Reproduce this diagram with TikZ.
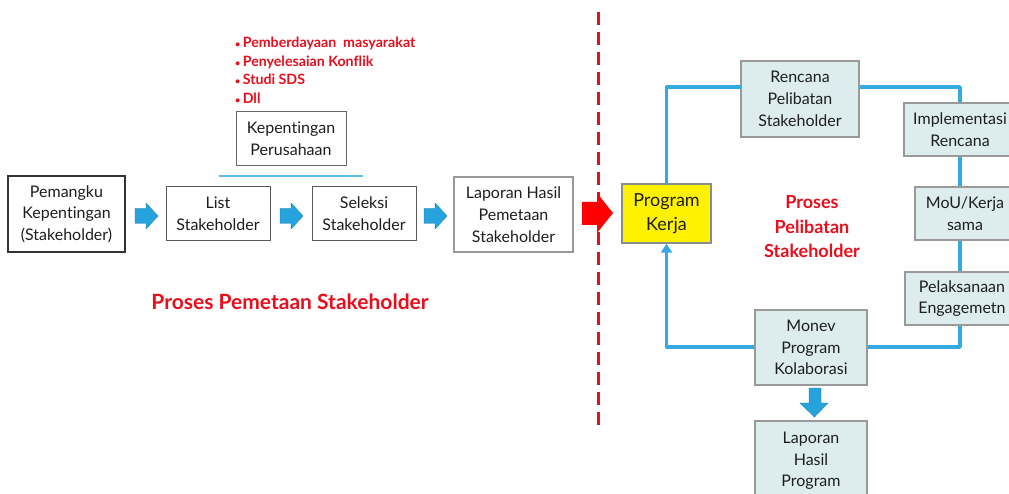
\documentclass[tikz,border=0pt]{standalone}
\usepackage{fontspec}
\setmainfont{Lato}[Ligatures={NoCommon}]
\usetikzlibrary{arrows.meta}
\definecolor{skyb}{RGB}{52,170,224}
\definecolor{arrb}{RGB}{38,162,220}
\definecolor{tealf}{RGB}{221,237,237}
\definecolor{redt}{RGB}{232,14,28}
\definecolor{txt}{RGB}{30,30,30}
\tikzset{
  box/.style={draw=black!65, line width=1pt, align=center, inner sep=0pt, text=txt,
    font=\fontsize{16}{21.7}\selectfont},
  tbox/.style={box, fill=tealf, draw=black!40, line width=1.4pt},
  loop/.style={draw=skyb, line width=3.6pt},
  redlbl/.style={text=redt, font=\bfseries\fontsize{14.2}{18}\selectfont, inner sep=0pt},
}
\newcommand{\rarrowshape}[2]{% right block arrow, left end x, center y
  \fill[arrb, draw=arrb!80!black, line width=0.4pt]
    (#1,#2-7.5) -- (#1+11,#2-7.5) -- (#1+11,#2-13) -- (#1+23,#2) -- (#1+11,#2+13)
    -- (#1+11,#2+7.5) -- (#1,#2+7.5) -- cycle;}
\begin{document}
\begin{tikzpicture}[x=1pt,y=-1pt]
\useasboundingbox (0,0) rectangle (1009,494);
\clip (0,0) rectangle (1009,494);
\fill[white] (0,0) rectangle (1009,494);

% ---------- left part ----------
\node[box, draw=black!80, line width=1.5pt, minimum width=117, minimum height=76] (pem) at (66.5,214) {Pemangku\\Kepentingan\\(Stakeholder)};
\node[box, minimum width=104, minimum height=54] (list) at (218,214) {List\\Stakeholder};
\node[box, minimum width=104, minimum height=54] (sel) at (364,214) {Seleksi\\Stakeholder};
\node[box, draw=black!40, line width=1.3pt, minimum width=119, minimum height=75] (lap) at (513.5,214.5) {Laporan Hasil\\Pemetaan\\Stakeholder};
\node[box, draw=black!60, minimum width=110, minimum height=54] (kep) at (291,139) {Kepentingan\\Perusahaan};
\coordinate (ul) at (218.5,176);
\coordinate (ur) at (363,176);
\draw[skyb!80, line width=1.3pt] (ul) -- (ur);

\node[redlbl, anchor=base west] (b1) at (235,48) {{\fontsize{9}{9}\selectfont\textbullet}\,Pemberdayaan\ \ masyarakat};
\node[redlbl, anchor=base west] (b2) at (235,66.5) {{\fontsize{9}{9}\selectfont\textbullet}\,Penyelesaian Konflik};
\node[redlbl, anchor=base west] (b3) at (235,85) {{\fontsize{9}{9}\selectfont\textbullet}\,Studi SDS};
\node[redlbl, anchor=base west] (b4) at (235,103.5) {{\fontsize{9}{9}\selectfont\textbullet}\,Dll};

\rarrowshape{135}{216}
\rarrowshape{280}{216}
\rarrowshape{424}{216}

\node[text=redt, font=\bfseries\fontsize{21}{24}\selectfont, anchor=base, inner sep=0pt] (t1) at (290,309) {Proses Pemetaan Stakeholder};

% dashed divider
\coordinate (dtop) at (598.5,12);
\coordinate (dbot) at (598.5,432);
\draw[redt, line width=3pt, dash pattern=on 13pt off 7pt] (dtop) -- (dbot);

% red arrow
\fill[red] (582,202) -- (597,202) -- (597,193) -- (613,213) -- (597,233) -- (597,225) -- (582,225) -- cycle;

% ---------- right part ----------
\node[box, fill=yellow, draw=black!45, line width=1.3pt, minimum width=89, minimum height=59,
  font=\fontsize{18}{24}\selectfont] (prog) at (666.5,213.5) {Program\\Kerja};
\node[tbox, minimum width=118, minimum height=76] (ren) at (800,99) {Rencana\\Pelibatan\\Stakeholder};
\node[tbox, minimum width=112, minimum height=53] (imp) at (960,129.5) {Implementasi\\Rencana};
\node[tbox, minimum width=100, minimum height=53] (mou) at (965,213.5) {MoU/Kerja\\sama};
\node[tbox, minimum width=114, minimum height=53] (pel) at (962,298.5) {Pelaksanaan\\Engagemetn};
\node[tbox, minimum width=112, minimum height=75] (mon) at (811,347.5) {Monev\\Program\\Kolaborasi};
\node[tbox, minimum width=112, minimum height=80] (lhp) at (811,461) {Laporan\\Hasil\\Program};

\node[text=redt, font=\bfseries\fontsize{18}{24.5}\selectfont, align=center, inner sep=0pt] (t2) at (812,227) {Proses\\Pelibatan\\Stakeholder};

\coordinate (lx) at (960,0);
\coordinate (topy) at (0,87);
\coordinate (boty) at (0,347);
\draw[loop, line cap=round, line join=round] (prog.north) -- (prog.north |- topy) -- (ren.west |- topy);
\draw[loop, line join=round] (ren.east |- topy) -- (lx |- topy) -- (imp.north -| lx);
\draw[loop] (imp.south -| lx) -- (mou.north -| lx);
\draw[loop] (mou.south -| lx) -- (pel.north -| lx);
\draw[loop, line join=round] (pel.south -| lx) -- (lx |- boty) -- (mon.east |- boty);
\draw[loop, line join=round, -{Triangle[length=9pt,width=11pt]}] (mon.west |- boty) -- (prog.south |- boty) -- (prog.south);

% down arrow
\fill[arrb, draw=arrb!80!black, line width=0.4pt] (809,388) -- (821,388) -- (821,403) -- (828,403) -- (814.5,417) -- (800,403) -- (809,403) -- cycle;
\end{tikzpicture}
\end{document}
